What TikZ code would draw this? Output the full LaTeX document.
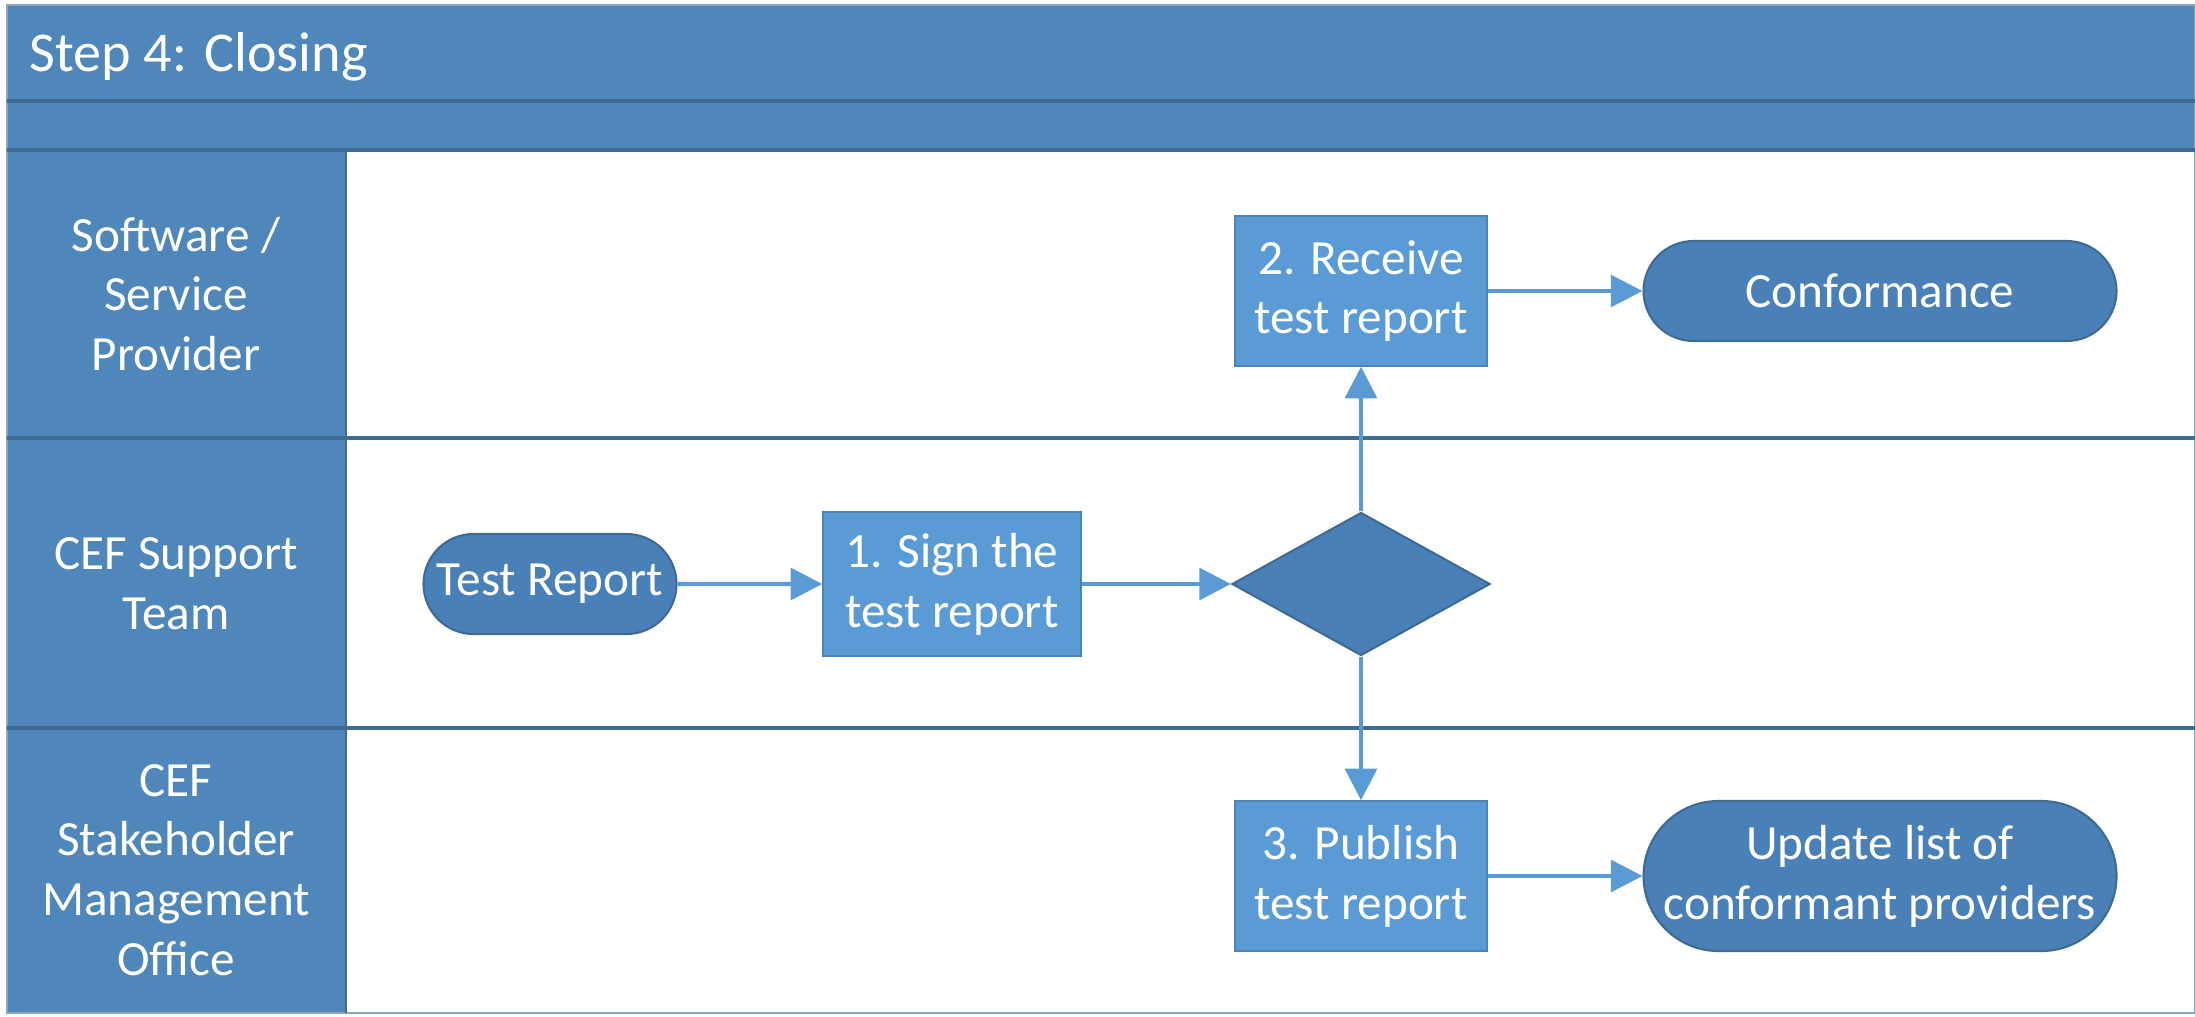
\documentclass[tikz,border=0pt]{standalone}
\usepackage{fontspec}
\setmainfont{Carlito}
\usetikzlibrary{arrows.meta,shapes.geometric,shapes.misc}
\definecolor{band}{RGB}{79,135,186}
\definecolor{boxblue}{RGB}{91,155,213}
\definecolor{pillblue}{RGB}{74,128,184}
\definecolor{edgeblue}{RGB}{62,106,148}

\begin{document}
\begin{tikzpicture}[font=\fontsize{14}{17}\selectfont,
  proc/.style={rectangle,fill=boxblue,draw=boxblue!85!black,line width=0.4pt,text=white,align=center,minimum width=2.52cm,minimum height=1.5cm,inner sep=1pt},
  term/.style={rounded rectangle,fill=pillblue,draw=edgeblue,line width=0.6pt,text=white,align=center,inner sep=1pt},
  lanelabel/.style={text=white,align=center},
  laneline/.style={edgeblue,line width=1.3pt},
  flow/.style={boxblue,line width=1.2pt,-{Triangle[length=9pt,width=9pt]}}]
 \useasboundingbox (0,0) rectangle (21.95,-10.16);
 \fill[band] (0.07,-0.05) rectangle (21.95,-1.50); %header
 \fill[band] (0.07,-1.50) rectangle (3.46,-10.13); %lane labels
 \draw[edgeblue!60,line width=0.6pt] (0.07,-0.05) rectangle (21.95,-10.13);
 \draw[edgeblue,line width=1pt] (0.07,-1.01)--(21.95,-1.01);
 \foreach \y in {1.50,4.38,7.28}
   \draw[laneline] (0.07,-\y)--(21.95,-\y);
 \draw[edgeblue,line width=0.8pt] (3.46,-1.50)--(3.46,-10.13);

 \node[anchor=west,text=white,font=\fontsize{16}{19}\selectfont] (title) at (0.17,-0.57) {Step 4: Closing};
 \node[lanelabel] (sp) at (1.76,-2.94) {Software /\\Service\\Provider};
 \node[lanelabel] (cst) at (1.76,-5.84) {CEF Support\\Team};
 \node[lanelabel] (smo) at (1.76,-8.70) {CEF\\Stakeholder\\Management\\Office};

 \node[term,minimum width=2.6cm,minimum height=1.0cm] (tr) at (5.50,-5.84) {Test Report};
 \node[proc,minimum width=2.58cm,minimum height=1.44cm] (sign) at (9.52,-5.84) {1. Sign the\\test report};
 \node[diamond,fill=pillblue,draw=edgeblue,line width=0.6pt,aspect=1.8,minimum width=2.58cm,minimum height=1.43cm,inner sep=0pt] (dec) at (13.61,-5.84) {};
 \node[proc] (recv) at (13.61,-2.91) {2. Receive\\test report};
 \node[proc] (pub) at (13.61,-8.76) {3. Publish\\test report};
 \node[term,minimum width=4.8cm,minimum height=1.0cm] (conf) at (18.80,-2.91) {Conformance};
 \node[term,minimum width=4.8cm,minimum height=1.5cm] (upd) at (18.80,-8.76) {Update list of\\conformant providers};

 \draw[flow] (tr)--(sign);
 \draw[flow] (sign)--(dec);
 \draw[flow] (dec.north)--(recv.south);
 \draw[flow] (dec.south)--(pub.north);
 \draw[flow] (recv)--(conf);
 \draw[flow] (pub)--(upd);
\end{tikzpicture}
\end{document}
